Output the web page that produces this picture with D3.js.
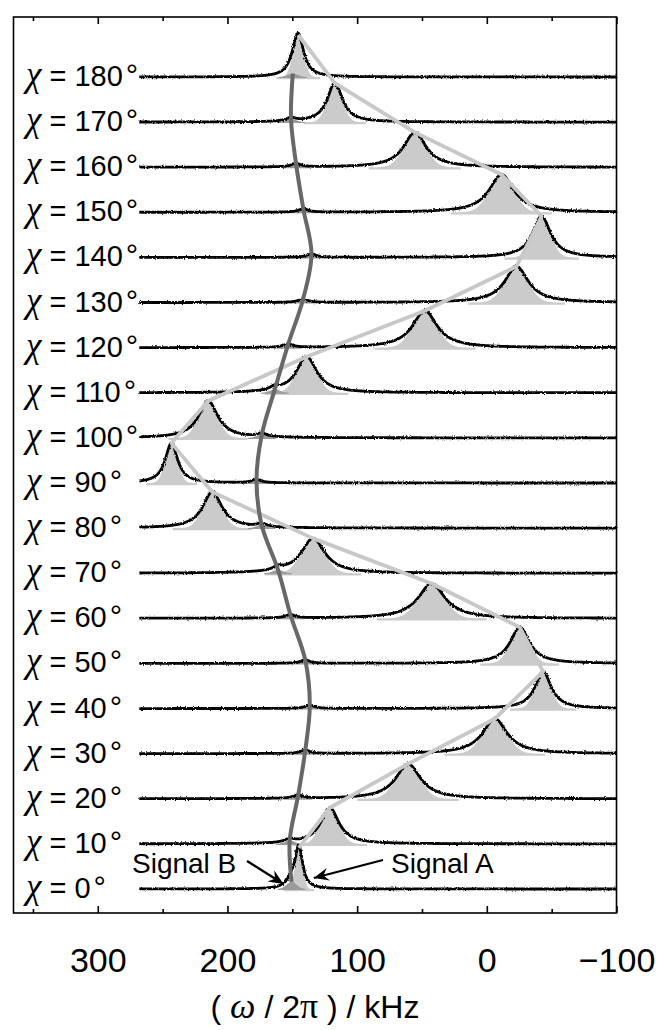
<!DOCTYPE html>
<html>
<head>
<meta charset="utf-8">
<script src="https://cdn.jsdelivr.net/npm/d3@7"></script>
<style>
  html, body { margin: 0; padding: 0; background: #fff; }
  svg { display: block; }
</style>
</head>
<body>
<svg id="chart" width="660" height="1030"></svg>
<script>
// Crystal orientation angles (one spectrum per angle)
const chiAngles = [0, 10, 20, 30, 40, 50, 60, 70, 80, 90, 100, 110, 120, 130, 140, 150, 160, 170, 180];
// Signal A: line position (kHz), relative intensity, full width at half height (kHz)
const shiftA  = [145.0, 121.1, 60.7, -6.2, -43.4, -25.4, 42.6, 134.0, 211.7, 243.2, 214.9, 139.0, 47.8, -22.9, -42.2, -11.3, 55.5, 117.2, 145.4];
const heightA = [0.98, 0.86, 0.83, 0.83, 0.88, 0.86, 0.83, 0.83, 0.86, 0.95, 0.88, 0.86, 0.88, 0.86, 0.98, 0.90, 0.83, 0.93, 1.00];
const widthA  = [7, 17, 23, 23, 15, 18, 25, 22, 18, 11.5, 18, 19, 23, 22, 17, 23, 21, 14, 10];
// Signal B: line position (kHz) and relative intensity
const shiftB  = [150.6, 152.0, 145.5, 140.0, 136.5, 140.0, 151.4, 161.0, 173.7, 177.6, 173.5, 163.5, 153.2, 141.7, 135.2, 141.5, 147.1, 151.0, 149.6];
const heightB = [0.17, 0.08, 0.08, 0.08, 0.08, 0.08, 0.08, 0.08, 0.08, 0.08, 0.08, 0.08, 0.08, 0.08, 0.08, 0.08, 0.08, 0.08, 0.08];
const widthB  = 9;
// Frequency axis
const majorTicks = [300, 200, 100, 0, -100];
const minorTicks = [350, 250, 150, 50, -50];
const spectrumRange = [268, -100];

const svg = d3.select("#chart");
const frame = { left: 13.5, right: 616.5, top: 17, bottom: 913 };
const sans = "'Liberation Sans', Arial, sans-serif";
const serif = "'Liberation Serif', 'Times New Roman', serif";

const x = d3.scaleLinear().domain([365, -100]).range([frame.left, frame.right]);
const yRow = d3.scaleLinear().domain([0, 180]).range([889, 77]);
const amp = d3.scaleLinear().domain([0, 1]).range([0, 42]);

const lorentz = (f, f0, w) => 1 / (1 + Math.pow((f - f0) / (w / 2), 2));
const gauss = (f, f0, w) => Math.exp(-4 * Math.LN2 * Math.pow((f - f0) / w, 2));

const defs = svg.append("defs");
const rough = defs.append("filter").attr("id", "rough")
  .attr("filterUnits", "userSpaceOnUse")
  .attr("x", 0).attr("y", 0).attr("width", 660).attr("height", 1030);
rough.append("feTurbulence").attr("type", "fractalNoise")
  .attr("baseFrequency", "0.9 0.6").attr("numOctaves", 2).attr("seed", 7).attr("result", "noise");
rough.append("feDisplacementMap").attr("in", "SourceGraphic").attr("in2", "noise")
  .attr("scale", 2.8).attr("xChannelSelector", "R").attr("yChannelSelector", "G");

defs.append("marker").attr("id", "head")
  .attr("viewBox", "-16 -8 18 16").attr("markerWidth", 18).attr("markerHeight", 16)
  .attr("refX", 0).attr("refY", 0).attr("orient", "auto").attr("markerUnits", "userSpaceOnUse")
  .append("path").attr("d", "M0,0 L-15,-6.5 L-10,0 L-15,6.5 Z").attr("fill", "#000");

const rows = chiAngles.map((chi, i) => ({
  chi, base: yRow(chi),
  fa: shiftA[i], ha: heightA[i], wa: widthA[i],
  fb: shiftB[i], hb: heightB[i]
}));

const freqs = d3.range(spectrumRange[0], spectrumRange[1] - 0.001, -0.25);

// Shaded components under the peaks
const fillG = svg.append("g");
rows.forEach(r => {
  const fA = freqs.filter(f => Math.abs(f - r.fa) < 1.7 * r.wa);
  fillG.append("path")
    .datum(fA)
    .attr("fill", "#cbcbcb")
    .attr("d", d3.area()
      .x(f => x(f))
      .y0(r.base + 2.2)
      .y1(f => r.base - amp(r.ha * gauss(f, r.fa, 0.95 * r.wa))));
  const fB = freqs.filter(f => Math.abs(f - r.fb) < 1.2 * widthB);
  fillG.append("path")
    .datum(fB)
    .attr("fill", "#9a9a9a")
    .attr("d", d3.area()
      .x(f => x(f))
      .y0(r.base + 1)
      .y1(f => r.base - amp(r.hb * gauss(f, r.fb, widthB))));
});

// Spectra
const traceG = svg.append("g").attr("filter", "url(#rough)");
rows.forEach(r => {
  traceG.append("path")
    .datum(freqs)
    .attr("fill", "none")
    .attr("stroke", "#000")
    .attr("stroke-width", 2.8)
    .attr("stroke-linejoin", "round")
    .attr("d", d3.line()
      .x(f => x(f))
      .y(f => r.base - amp(r.ha * lorentz(f, r.fa, r.wa) + r.hb * lorentz(f, r.fb, widthB))));
});

// Peak trajectories
svg.append("path")
  .datum(rows)
  .attr("fill", "none")
  .attr("stroke", "#c8c8c8")
  .attr("stroke-width", 3.8)
  .attr("stroke-linejoin", "round")
  .attr("d", d3.line().x(r => x(r.fa)).y(r => r.base - amp(r.ha)));

svg.append("path")
  .datum(rows)
  .attr("fill", "none")
  .attr("stroke", "#686868")
  .attr("stroke-width", 4)
  .attr("stroke-linejoin", "round")
  .attr("d", d3.line().curve(d3.curveCatmullRom.alpha(0.5)).x(r => x(r.fb)).y(r => r.base - amp(r.hb)));

// Frame and ticks
svg.append("rect")
  .attr("x", frame.left).attr("y", frame.top)
  .attr("width", frame.right - frame.left).attr("height", frame.bottom - frame.top)
  .attr("fill", "none").attr("stroke", "#000").attr("stroke-width", 1.6);

const fmt = d => d < 0 ? "\u2212" + Math.abs(d) : String(d);
const axes = [
  { gen: d3.axisBottom, y: frame.bottom, ticks: majorTicks, size: -7, labels: true },
  { gen: d3.axisBottom, y: frame.bottom, ticks: minorTicks, size: -4, labels: false },
  { gen: d3.axisTop, y: frame.top, ticks: majorTicks, size: -7, labels: false },
  { gen: d3.axisTop, y: frame.top, ticks: minorTicks, size: -4, labels: false }
];
axes.forEach(a => {
  const g = svg.append("g")
    .attr("transform", `translate(0,${a.y})`)
    .call(a.gen(x).tickValues(a.ticks).tickSize(a.size).tickPadding(35)
      .tickFormat(a.labels ? fmt : () => ""));
  g.select(".domain").remove();
  g.selectAll(".tick line").attr("stroke", "#000").attr("stroke-width", 1.6);
  g.selectAll(".tick text")
    .attr("fill", "#000")
    .style("font-family", sans)
    .style("font-size", "34px");
});

// Axis title
const title = svg.append("text")
  .attr("x", (frame.left + frame.right) / 2).attr("y", 1018)
  .attr("text-anchor", "middle")
  .style("font-family", sans)
  .style("font-size", "32px");
title.append("tspan").text("( ");
title.append("tspan").text("\u03c9").style("font-family", serif).style("font-style", "italic").style("font-size", "36px");
title.append("tspan").text(" / 2");
title.append("tspan").text("\u03c0").style("font-family", serif).style("font-size", "36px");
title.append("tspan").text(" ) / kHz");

// Row labels, left-aligned inside the frame
rows.forEach(r => {
  const t = svg.append("text")
    .attr("x", 26).attr("y", r.base + 9)
    .attr("text-anchor", "start")
    .style("font-family", sans)
    .style("font-size", "29px");
  t.append("tspan").text("\u03c7").style("font-family", serif).style("font-style", "italic").style("font-size", "35px");
  t.append("tspan").text(" = " + r.chi);
  t.append("tspan").text("\u00b0").attr("dx", 3).style("font-size", "31px");
});

// Signal annotations
const r0 = rows[0];
const notes = [
  { text: "Signal B", tx: 132, ty: 873,
    from: [247, 861], to: [x(r0.fb) - 8, r0.base - 5] },
  { text: "Signal A", tx: 391, ty: 873,
    from: [383, 860], to: [x(r0.fa) + 15, r0.base - 11] }
];
notes.forEach(n => {
  svg.append("text")
    .attr("x", n.tx).attr("y", n.ty)
    .style("font-family", sans)
    .style("font-size", "28px")
    .text(n.text);
  svg.append("line")
    .attr("x1", n.from[0]).attr("y1", n.from[1])
    .attr("x2", n.to[0]).attr("y2", n.to[1])
    .attr("stroke", "#000").attr("stroke-width", 2.2)
    .attr("marker-end", "url(#head)");
});
</script>
</body>
</html>
